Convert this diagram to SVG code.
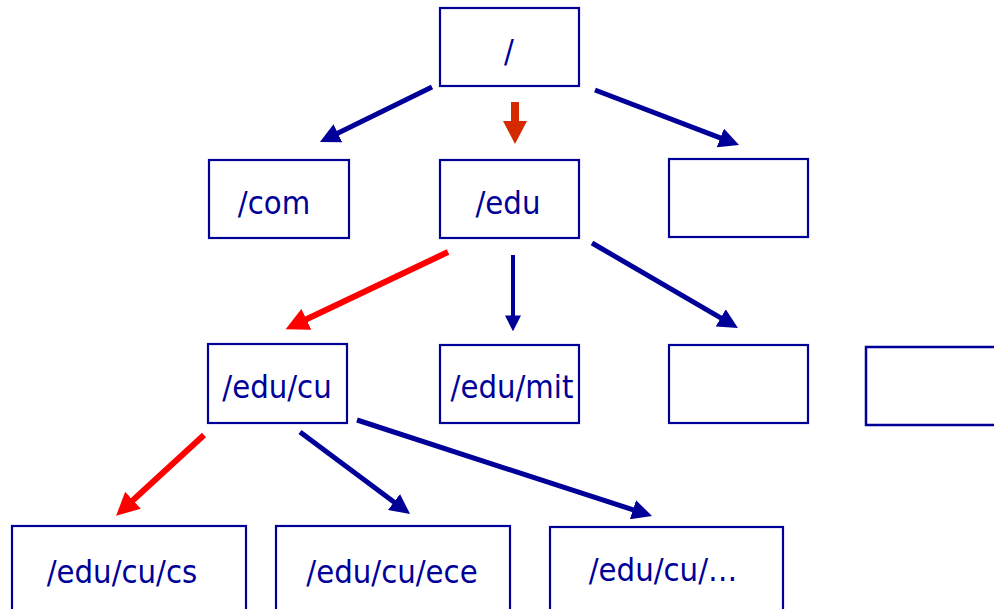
<svg xmlns="http://www.w3.org/2000/svg" width="994" height="609" viewBox="0 0 994 609">
<style>
.box{fill:#fff;stroke:#000099;stroke-width:2.2}
.lbl{font-family:"DejaVu Sans Condensed","DejaVu Sans",Verdana,sans-serif;font-size:32.5px;fill:#000099;text-anchor:middle}
.blue{stroke:#000099;stroke-width:5;fill:none}
.thin{stroke:#000099;stroke-width:4;fill:none}
.red{stroke:#ff0000;stroke-width:6;fill:none}
</style>
<defs>
<marker id="hb" markerUnits="userSpaceOnUse" viewBox="0 0 20 20" refX="2" refY="10" markerWidth="20" markerHeight="20" orient="auto"><path d="M0,0 L20,10 L0,20 z" fill="#000099"/></marker>
<marker id="hs" markerUnits="userSpaceOnUse" viewBox="0 0 20 20" refX="2" refY="10" markerWidth="16" markerHeight="16" orient="auto"><path d="M0,0 L20,10 L0,20 z" fill="#000099"/></marker>
<marker id="hr" markerUnits="userSpaceOnUse" viewBox="0 0 20 20" refX="2" refY="10" markerWidth="23" markerHeight="23" orient="auto"><path d="M0,0 L20,10 L0,20 z" fill="#ff0000"/></marker>
</defs>
<g id="connectors">
<line class="blue" x1="432" y1="87" x2="336.1" y2="134.1" marker-end="url(#hb)"/>
<line class="blue" x1="595" y1="90" x2="722.2" y2="138.6" marker-end="url(#hb)"/>
<polygon points="511,102 519,102 519,121 527,121 515,144 503,121 511,121" fill="#d52a00"/>
<line class="red" x1="448" y1="252" x2="304.3" y2="320.3" marker-end="url(#hr)"/>
<line class="thin" x1="513" y1="255" x2="513" y2="317" marker-end="url(#hs)"/>
<line class="blue" x1="592" y1="243" x2="722.4" y2="318.9" marker-end="url(#hb)"/>
<line class="red" x1="204" y1="435" x2="131.3" y2="501.8" marker-end="url(#hr)"/>
<line class="blue" x1="300" y1="432" x2="395.6" y2="503.2" marker-end="url(#hb)"/>
<line class="blue" x1="357" y1="420" x2="634.9" y2="510.4" marker-end="url(#hb)"/>
</g>
<g id="root"><rect class="box" x="440" y="8" width="139" height="78"/><text class="lbl" x="509" y="62">/</text></g>
<g id="com"><rect class="box" x="209" y="160" width="140" height="78"/><text class="lbl" x="274" y="214">/com</text></g>
<g id="edu"><rect class="box" x="440" y="160" width="139" height="78"/><text class="lbl" x="508" y="214">/edu</text></g>
<g id="empty1"><rect class="box" x="669" y="159" width="139" height="78"/></g>
<g id="educu"><rect class="box" x="208" y="344" width="139" height="79"/><text class="lbl" x="277" y="398">/edu/cu</text></g>
<g id="edumit"><rect class="box" x="440" y="345" width="139" height="78"/><text class="lbl" x="512" y="398">/edu/mit</text></g>
<g id="empty2"><rect class="box" x="669" y="345" width="139" height="78"/></g>
<g id="empty3"><rect class="box" x="866" y="347" width="140" height="78" style="stroke-width:2.5"/></g>
<g id="cs"><rect class="box" x="12" y="526" width="234" height="95"/><text class="lbl" x="122" y="583">/edu/cu/cs</text></g>
<g id="ece"><rect class="box" x="276" y="526" width="234" height="95"/><text class="lbl" x="392" y="583">/edu/cu/ece</text></g>
<g id="more"><rect class="box" x="550" y="527" width="233" height="95"/><text class="lbl" x="663" y="581">/edu/cu/…</text></g>
</svg>
